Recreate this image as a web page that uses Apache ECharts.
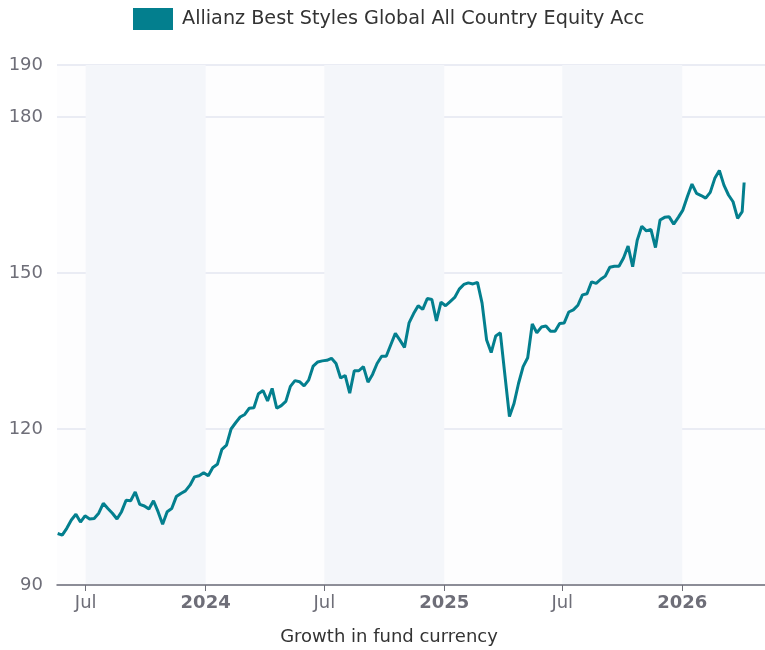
<!DOCTYPE html>
<html>
<head>
<meta charset="utf-8">
<script src="https://cdn.jsdelivr.net/npm/echarts@6/dist/echarts.min.js"></script>
<style>
  html, body { margin: 0; padding: 0; background: #ffffff; }
  #chart { width: 765px; height: 650px; }
</style>
</head>
<body>
<div id="chart"></div>
<script>
// Weekly fund values (growth in fund currency, start = 100)
const fundName = 'Allianz Best Styles Global All Country Equity Acc';

const dates = [
  '2023-05-19','2023-05-26','2023-06-02','2023-06-09','2023-06-16','2023-06-23','2023-06-30',
  '2023-07-07','2023-07-14','2023-07-21','2023-07-28','2023-08-04','2023-08-11','2023-08-18','2023-08-25',
  '2023-09-01','2023-09-08','2023-09-15','2023-09-22','2023-09-29','2023-10-06','2023-10-13','2023-10-20','2023-10-27',
  '2023-11-03','2023-11-10','2023-11-17','2023-11-24','2023-12-01','2023-12-08','2023-12-15','2023-12-22','2023-12-29',
  '2024-01-05','2024-01-12','2024-01-19','2024-01-26','2024-02-02','2024-02-09','2024-02-16','2024-02-23',
  '2024-03-01','2024-03-08','2024-03-15','2024-03-22','2024-03-29','2024-04-05','2024-04-12','2024-04-19','2024-04-26',
  '2024-05-03','2024-05-10','2024-05-17','2024-05-24','2024-05-31','2024-06-07','2024-06-14','2024-06-21','2024-06-28',
  '2024-07-05','2024-07-12','2024-07-19','2024-07-26','2024-08-02','2024-08-09','2024-08-16','2024-08-23','2024-08-30',
  '2024-09-06','2024-09-13','2024-09-20','2024-09-27','2024-10-04','2024-10-11','2024-10-18','2024-10-25',
  '2024-11-01','2024-11-08','2024-11-15','2024-11-22','2024-11-29','2024-12-06','2024-12-13','2024-12-20','2024-12-27',
  '2025-01-03','2025-01-10','2025-01-17','2025-01-24','2025-01-31','2025-02-07','2025-02-14','2025-02-21','2025-02-28',
  '2025-03-07','2025-03-14','2025-03-21','2025-03-28','2025-04-04','2025-04-11','2025-04-18','2025-04-25',
  '2025-05-02','2025-05-09','2025-05-16','2025-05-23','2025-05-30','2025-06-06','2025-06-13','2025-06-20','2025-06-27',
  '2025-07-04','2025-07-11','2025-07-18','2025-07-25','2025-08-01','2025-08-08','2025-08-15','2025-08-22','2025-08-29',
  '2025-09-05','2025-09-12','2025-09-19','2025-09-26','2025-10-03','2025-10-10','2025-10-17','2025-10-24','2025-10-31',
  '2025-11-07','2025-11-14','2025-11-21','2025-11-28','2025-12-05','2025-12-12','2025-12-19','2025-12-26',
  '2026-01-02','2026-01-09','2026-01-16','2026-01-23','2026-01-30','2026-02-06','2026-02-13','2026-02-20','2026-02-27',
  '2026-03-06','2026-03-13','2026-03-20','2026-03-27','2026-04-03','2026-04-06'
];

const values = [
  99.9, 99.6, 100.9, 102.5, 103.6, 102.1, 103.3,
  102.7, 102.8, 103.8, 105.7, 104.7, 103.8, 102.7, 104.1,
  106.3, 106.2, 107.9, 105.5, 105.2, 104.6, 106.2, 104.1, 101.7,
  104.1, 104.7, 107.0, 107.6, 108.1, 109.2, 110.8, 111.0, 111.6,
  111.0, 112.6, 113.2, 116.1, 116.9, 120.0, 121.2, 122.3,
  122.8, 124.0, 124.1, 126.8, 127.4, 125.4, 127.8, 124.0, 124.5,
  125.3, 128.2, 129.3, 129.1, 128.3, 129.4, 132.1, 132.9, 133.1,
  133.2, 133.6, 132.6, 129.8, 130.3, 126.9, 131.2, 131.2, 132.0,
  129.0, 130.5, 132.6, 134.0, 134.0, 136.2, 138.4, 137.1,
  135.7, 140.4, 142.2, 143.7, 143.0, 145.1, 144.9, 140.8, 144.4,
  143.7, 144.5, 145.3, 146.9, 147.8, 148.1, 147.9, 148.2, 144.2,
  137.1, 134.7, 137.9, 138.5, 130.4, 122.4, 124.9, 128.8,
  132.0, 133.7, 140.2, 138.5, 139.6, 139.8, 138.8, 138.8, 140.3,
  140.4, 142.5, 142.9, 143.8, 145.8, 146.0, 148.3, 148.0, 148.8,
  149.4, 151.1, 151.3, 151.3, 152.9, 155.2, 151.2, 156.3, 159.0,
  158.1, 158.4, 154.9, 160.2, 160.7, 160.8, 159.4, 160.7,
  162.1, 164.7, 167.1, 165.3, 164.9, 164.4, 165.5, 168.2, 169.7,
  166.9, 165.0, 163.7, 160.5, 161.8, 167.4
];

// Axis ticks
const yTicks = [90, 120, 150, 180, 190];
const xTickDates = ['2023-07-01', '2024-01-01', '2024-07-01', '2025-01-01', '2025-07-01', '2026-01-01'];
// Shaded half-years (second half of each year)
const shadedPeriods = [
  ['2023-07-01', '2024-01-01'],
  ['2024-07-01', '2025-01-01'],
  ['2025-07-01', '2026-01-01']
];
const xRange = ['2023-05-18', '2026-05-08'];

const toTime = s => { const p = s.split('-').map(Number); return new Date(p[0], p[1] - 1, p[2]).getTime(); };

const FONT = 'DejaVu Sans';
const TEAL = '#037f8e';
const AXIS_GREY = '#6e6e78';

const chart = echarts.init(document.getElementById('chart'), null, { renderer: 'canvas' });

const xTickTimes = xTickDates.map(toTime);

chart.setOption({
  animation: false,
  backgroundColor: '#ffffff',
  textStyle: { fontFamily: FONT },
  legend: {
    top: 8,
    left: 133,
    padding: 0,
    itemWidth: 40,
    itemHeight: 22,
    itemGap: 10,
    icon: 'rect',
    selectedMode: false,
    textStyle: { fontFamily: FONT, fontSize: 19.2, color: '#333333', padding: [0, 0, 0, 4] },
    data: [fundName]
  },
  grid: {
    left: 57,
    right: 0,
    top: 65,
    bottom: 65,
    containLabel: false,
    outerBoundsMode: 'none',
    show: true,
    backgroundColor: '#fdfdfe',
    borderWidth: 0
  },
  xAxis: {
    type: 'value',
    z: 10,
    min: toTime(xRange[0]),
    max: toTime(xRange[1]),
    name: 'Growth in fund currency',
    nameLocation: 'middle',
    nameGap: 43,
    nameTextStyle: { fontFamily: FONT, fontSize: 18, color: '#333333', padding: [0, 44, 0, 0] },
    axisLine: { show: true, lineStyle: { color: AXIS_GREY, width: 1.5 } },
    axisTick: {
      show: true,
      length: 6,
      lineStyle: { color: AXIS_GREY, width: 1 },
      customValues: xTickTimes
    },
    splitLine: { show: false },
    axisLabel: {
      margin: 9,
      fontFamily: FONT,
      fontSize: 18,
      color: AXIS_GREY,
      customValues: xTickTimes,
      formatter: function (val) {
        const d = new Date(val);
        if (d.getMonth() === 0) return '{yr|' + d.getFullYear() + '}';
        return 'Jul';
      },
      rich: {
        yr: { fontFamily: FONT, fontSize: 18, fontWeight: 'bold', color: AXIS_GREY }
      }
    }
  },
  yAxis: {
    type: 'value',
    min: 90,
    max: 190,
    axisLine: { show: false },
    axisTick: { show: false, customValues: yTicks },
    axisLabel: {
      margin: 14,
      fontFamily: FONT,
      fontSize: 18,
      color: AXIS_GREY,
      customValues: yTicks
    },
    splitLine: { show: true, lineStyle: { color: '#e3e6f0', width: 1.5 } }
  },
  series: [{
    name: fundName,
    type: 'line',
    showSymbol: false,
    symbol: 'none',
    color: TEAL,
    lineStyle: { color: TEAL, width: 3 },
    data: dates.map((d, i) => [toTime(d), values[i]]),
    markArea: {
      silent: true,
      itemStyle: { color: '#f4f6fa' },
      data: shadedPeriods.map(p => [{ xAxis: toTime(p[0]) }, { xAxis: toTime(p[1]) }])
    },
    z: 3
  }]
});
</script>
</body>
</html>
